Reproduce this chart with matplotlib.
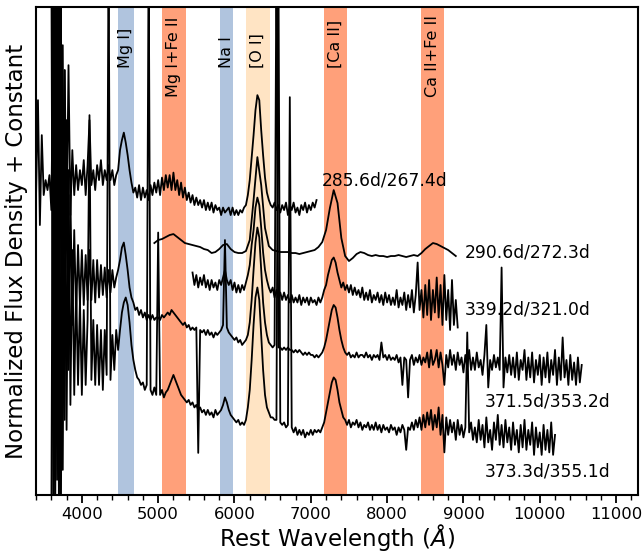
import numpy as np
import matplotlib
matplotlib.use('Agg')
import matplotlib.pyplot as plt
from matplotlib.transforms import blended_transform_factory

# Espectros nebulares (flujo normalizado + constante), muestreo regular en Angstrom
paso_fino = 25
paso_suave = 50

inicio_285 = 3400
flujo_285 = [6.0, 7.9, 5.4, 7.2, 6.0, 6.3, 6.1, 6.4,
             5.7, 9.0, 3.0, 10.5, 2.0, 9.8, 4.0, 8.5,
             5.2, 8.6, 5.6, 6.9, 6.0, 6.6, 6.1, 6.5,
             6.2, 6.7, 6.0, 6.6, 7.5, 6.2, 6.5, 6.1,
             6.6, 6.3, 6.7, 6.2, 6.5, 6.3, 6.6, 6.3,
             6.5, 6.2, 6.4, 6.5, 6.9, 7.1, 7.25, 7.05,
             6.8, 6.5, 6.25, 6.05, 6.15, 5.95, 6.2, 5.9,
             6.15, 5.95, 6.1, 5.9, 6.2, 6.0, 6.25, 6.05,
             6.3, 6.0, 6.35, 6.1, 6.4, 6.15, 6.4, 6.1,
             6.45, 6.1, 6.3, 6.0, 6.25, 5.95, 6.15, 5.9,
             6.05, 5.85, 6.0, 5.8, 5.95, 5.8, 5.9, 5.75,
             5.9, 5.7, 5.85, 5.7, 5.85, 5.65, 5.8, 5.7,
             5.75, 5.6, 5.75, 5.65, 5.7, 5.75, 5.6, 5.75,
             5.6, 5.7, 5.6, 5.7, 5.65, 5.75, 5.8, 6.0,
             6.3, 6.75, 7.2, 7.7, 8.0, 7.9, 7.3, 6.8,
             6.35, 6.05, 5.9, 5.8, 5.75, 5.85, 5.7, 5.8,
             5.65, 5.8, 5.7, 5.85, 5.6, 5.8, 5.7, 5.85,
             5.65, 5.75, 5.6, 5.8, 5.7, 5.85, 5.65, 5.8,
             5.7, 5.85, 5.75, 5.9]

inicio_290 = 4950
flujo_290 = [5.04, 5.1, 5.12, 5.16, 5.2, 5.22, 5.16, 5.1,
             5.04, 5.02, 5.0, 4.98, 4.96, 4.92, 4.9, 4.84,
             4.86, 4.92, 5.0, 5.02, 4.92, 4.86, 4.84, 4.84,
             4.88, 5.1, 5.9, 6.76, 6.2, 5.34, 4.98, 4.9,
             4.88, 4.86, 4.86, 4.86, 4.84, 4.84, 4.82, 4.84,
             4.86, 4.88, 4.9, 4.96, 5.06, 5.3, 5.74, 6.1,
             5.84, 5.14, 4.78, 4.68, 4.74, 4.82, 4.86, 4.84,
             4.8, 4.78, 4.8, 4.78, 4.78, 4.76, 4.78, 4.78,
             4.8, 4.78, 4.76, 4.78, 4.8, 4.78, 4.84, 4.92,
             4.98, 5.04, 5.02, 4.98, 4.94, 4.9, 4.84, 4.78]

inicio_339 = 5450
flujo_339 = [4.45, 4.2, 4.4, 4.15, 4.35, 4.2, 4.4, 4.15,
             4.3, 4.1, 4.3, 4.15, 4.25, 4.1, 4.3, 4.2,
             4.35, 4.5, 4.3, 4.2, 4.3, 4.1, 4.25, 4.05,
             4.2, 4.05, 4.2, 4.1, 4.25, 4.4, 4.6, 5.0,
             5.3, 5.75, 5.95, 5.8, 5.35, 4.85, 4.5, 4.3,
             4.15, 4.05, 4.15, 3.95, 4.1, 3.95, 4.05, 3.9,
             4.05, 3.9, 4.0, 3.85, 4.0, 3.85, 3.95, 3.85,
             4.0, 3.8, 3.95, 3.85, 3.95, 3.8, 3.95, 3.85,
             3.9, 3.8, 3.95, 3.85, 3.95, 4.1, 4.2, 4.4,
             4.55, 4.7, 4.75, 4.65, 4.45, 4.3, 4.15, 4.25,
             4.1, 4.2, 4.05, 4.2, 4.0, 4.15, 4.0, 4.1,
             3.95, 4.15, 3.9, 4.05, 3.9, 4.1, 3.85, 4.0,
             3.9, 4.05, 3.85, 4.0, 3.8, 4.05, 3.85, 4.0,
             3.8, 3.95, 3.8, 4.1, 3.75, 3.95, 3.8, 4.05,
             3.7, 4.0, 3.75, 4.1, 3.65, 4.0, 4.65, 3.7,
             4.1, 3.55, 4.2, 3.6, 4.3, 3.5, 4.1, 3.65,
             4.35, 3.55, 4.2, 3.4, 4.4, 3.5, 4.1, 3.3,
             4.3, 3.4, 3.9, 3.35]

inicio_371 = 3600
flujo_371 = [11.0, -0.5, 10.5, 0.3, 11.0, -0.8, 9.0, 1.5,
             7.5, 2.5, 6.0, 3.4, 5.3, 3.6, 5.0, 3.8,
             4.9, 3.8, 4.8, 3.9, 4.9, 3.9, 4.7, 3.85,
             4.7, 3.95, 4.6, 4.0, 4.55, 3.95, 4.5, 4.05,
             4.5, 4.15, 4.35, 4.5, 4.7, 4.95, 5.05, 4.8,
             4.5, 4.15, 3.95, 3.85, 3.7, 3.75, 3.6, 3.7,
             3.55, 3.65, 3.5, 3.6, 3.5, 3.6, 3.5, 3.55,
             3.55, 3.5, 3.6, 3.55, 3.6, 3.65, 3.6, 3.7,
             3.65, 3.6, 3.55, 3.5, 3.45, 3.4, 3.45, 3.35,
             3.4, 3.3, 3.35, 3.3, 3.35, 0.84, 3.3, 3.25,
             3.3, 3.2, 3.3, 3.2, 3.25, 3.15, 3.25, 3.2,
             3.25, 3.3, 3.4, 5.1, 3.35, 3.25, 3.2, 3.15,
             3.1, 3.15, 3.05, 3.1, 3.0, 3.05, 3.1, 3.2,
             3.45, 3.9, 4.5, 5.05, 5.35, 5.15, 4.5, 3.85,
             3.45, 3.2, 3.05, 3.0, 2.95, 3.0, 11.0, 2.95,
             2.95, 2.9, 2.95, 2.9, 2.95, 2.9, 2.9, 2.85,
             2.9, 2.85, 2.9, 2.85, 2.8, 2.85, 2.8, 2.85,
             2.8, 2.8, 2.75, 2.8, 2.75, 2.8, 2.85, 2.95,
             3.1, 3.3, 3.5, 3.7, 3.8, 3.75, 3.55, 3.3,
             3.1, 2.95, 2.85, 2.8, 2.85, 2.75, 2.8, 2.75,
             2.85, 2.75, 2.8, 2.8, 2.75, 2.85, 2.75, 2.8,
             2.7, 2.8, 2.75, 2.8, 2.7, 3.05, 2.75, 2.8,
             2.7, 2.8, 2.7, 2.75, 2.7, 2.8, 2.65, 2.75,
             2.2, 2.75, 2.7, 1.95, 2.7, 2.8, 2.6, 2.75,
             2.65, 2.8, 2.6, 2.75, 2.65, 2.85, 2.55, 2.9,
             2.6, 2.7, 2.9, 2.55, 2.85, 2.6, 2.2, 2.8,
             2.55, 2.9, 2.6, 2.8, 2.5, 2.85, 2.6, 2.75,
             2.45, 2.8, 2.55, 2.9, 2.5, 2.75, 2.5, 2.85,
             2.55, 2.7, 2.4, 2.8, 3.4, 2.15, 2.7, 2.5,
             2.8, 2.55, 2.75, 2.5, 4.55, 2.15, 2.75, 2.45,
             2.8, 2.4, 2.75, 2.35, 2.85, 2.3, 2.7, 2.5,
             2.9, 2.3, 2.75, 2.35, 2.85, 2.25, 2.7, 2.4,
             2.8, 2.2, 2.75, 2.35, 2.85, 2.25, 2.7, 2.4,
             2.9, 2.2, 2.75, 2.3, 3.15, 2.35, 2.7, 2.2,
             2.8, 2.3, 2.65, 2.2, 2.75, 2.25, 2.6]

inicio_373 = 3600
flujo_373 = [-0.8, 10.5, -1.0, 11.0, -0.5, 10.0, 0.5, 8.5,
             1.3, 6.5, 1.8, 4.9, 2.0, 4.2, 2.2, 3.9,
             2.0, 3.7, 2.2, 3.5, 7.6, 2.3, 3.5, 2.2,
             3.4, 2.2, 3.3, 2.1, 3.3, 2.4, 11.0, 2.3,
             3.2, 2.5, 3.3, 2.9, 3.3, 3.65, 3.85, 3.95,
             3.8, 3.45, 3.0, 2.7, 2.5, 2.35, 2.3, 2.2,
             2.25, 2.1, 2.2, 11.0, 2.1, 2.0, 2.15, 2.0,
             5.25, 2.0, 2.1, 1.95, 2.05, 2.1, 2.2, 2.3,
             2.4, 2.3, 2.2, 2.1, 2.0, 1.95, 1.9, 1.85,
             1.9, 1.8, 1.85, 1.75, 1.8, 1.7, 1.75, 1.65,
             1.7, 1.6, 1.7, 1.6, 1.65, 1.55, 1.7, 1.6,
             1.65, 1.7, 1.8, 1.95, 1.85, 1.7, 1.6, 1.55,
             1.5, 1.45, 1.5, 1.4, 1.45, 1.4, 1.5, 1.75,
             2.1, 2.7, 3.4, 3.95, 4.15, 3.9, 3.2, 2.5,
             2.0, 1.75, 1.65, 1.55, 1.55, 1.5, 1.5, 11.0,
             1.45, 1.4, 1.45, 1.35, 1.4, 7.96, 1.35, 1.25,
             1.35, 1.2, 1.3, 1.2, 1.3, 1.15, 1.25, 1.2,
             1.3, 1.2, 1.3, 1.25, 1.3, 1.25, 1.35, 1.45,
             1.65, 1.85, 2.05, 2.25, 2.35, 2.3, 2.1, 1.85,
             1.7, 1.55, 1.5, 1.4, 1.5, 1.35, 1.45, 1.4,
             1.5, 1.35, 1.45, 1.3, 1.4, 1.35, 1.45, 1.3,
             1.4, 1.3, 1.45, 1.3, 1.4, 1.25, 1.4, 1.3,
             1.35, 1.25, 1.4, 1.3, 1.35, 1.2, 1.35, 1.25,
             1.4, 1.3, 0.9, 1.35, 1.3, 1.45, 1.3, 1.5,
             1.35, 1.55, 1.3, 1.6, 1.35, 1.65, 1.4, 1.7,
             1.3, 1.6, 1.35, 1.75, 1.2, 1.6, 0.85, 1.55,
             1.2, 1.5, 1.25, 1.45, 1.1, 1.5, 1.2, 1.4,
             1.15, 1.35, 3.25, 1.25, 1.45, 1.1, 1.35, 1.05,
             1.5, 1.1, 1.4, 0.95, 1.55, 1.05, 1.3, 0.9,
             1.45, 1.1, 1.6, 1.0, 1.4, 0.95, 1.5, 1.05,
             1.35, 0.9, 1.45, 1.0, 1.3, 0.85, 1.4, 0.95,
             1.5, 0.9, 1.3, 1.0, 1.45, 0.8, 1.35, 0.95,
             1.25, 0.8, 1.4, 0.9, 1.3, 0.85, 1.45, 0.8,
             1.2]

# Etiquetas de cada espectro (fase) y su posicion
etiquetas = ['285.6d/267.4d', '290.6d/272.3d', '339.2d/321.0d',
             '371.5d/353.2d', '373.3d/355.1d']
etiqueta_x = [7144, 9015, 9015, 9277, 9277]
etiqueta_y = [6.3, 4.86, 3.7, 1.86, 0.46]

# Bandas de lineas
lineas = ['Mg I]', 'Mg I+Fe II', 'Na I', '[O I]', '[Ca II]', 'Ca II+Fe II']
banda_ini = [4470, 5050, 5810, 6150, 7170, 8440]
banda_fin = [4680, 5360, 5975, 6460, 7480, 8750]
banda_color = ['lightsteelblue', 'lightsalmon', 'lightsteelblue',
               'bisque', 'lightsalmon', 'lightsalmon']
banda_texto_y = [0.875, 0.816, 0.875, 0.875, 0.875, 0.816]


def graficar():
    fig = plt.figure(figsize=(6.44, 5.56), dpi=100)
    ax = fig.add_axes([0.056, 0.110, 0.935, 0.877])

    trans = blended_transform_factory(ax.transData, ax.transAxes)
    for nombre, x0, x1, col, ty in zip(lineas, banda_ini, banda_fin,
                                       banda_color, banda_texto_y):
        ax.axvspan(x0, x1, color=col, lw=0, zorder=0)
        ax.text((x0 + x1) / 2, ty, nombre, rotation=90, transform=trans,
                ha='center', va='bottom', fontsize=11.5)

    espectros = [(inicio_285, paso_fino, flujo_285),
                 (inicio_290, paso_suave, flujo_290),
                 (inicio_339, paso_fino, flujo_339),
                 (inicio_371, paso_fino, flujo_371),
                 (inicio_373, paso_fino, flujo_373)]
    for inicio, paso, flujo in espectros:
        onda = inicio + paso * np.arange(len(flujo))
        ax.plot(onda, flujo, color='black', lw=1.3, zorder=2)

    for txt, x, y in zip(etiquetas, etiqueta_x, etiqueta_y):
        ax.text(x, y, txt, ha='left', va='center', fontsize=12.3)

    ax.set_xlim(3400, 11290)
    ax.set_ylim(0, 9.76)
    ax.set_xticks(np.arange(4000, 11001, 1000))
    ax.set_xticks(np.arange(3400, 11290, 200), minor=True)
    ax.set_yticks([])
    ax.tick_params(axis='x', which='major', direction='out', length=6,
                   width=1.3, labelsize=11.8, pad=3, top=False)
    ax.tick_params(axis='x', which='minor', direction='out', length=3.5,
                   width=1.0, top=False)
    for s in ax.spines.values():
        s.set_linewidth(1.5)

    ax.set_xlabel('Rest Wavelength ($\\AA$)', fontsize=16.5, labelpad=0)
    ax.set_ylabel('Normalized Flux Density + Constant', fontsize=16.5,
                  labelpad=6)

    fig.savefig('out.png', dpi=100)


if __name__ == '__main__':
    graficar()
